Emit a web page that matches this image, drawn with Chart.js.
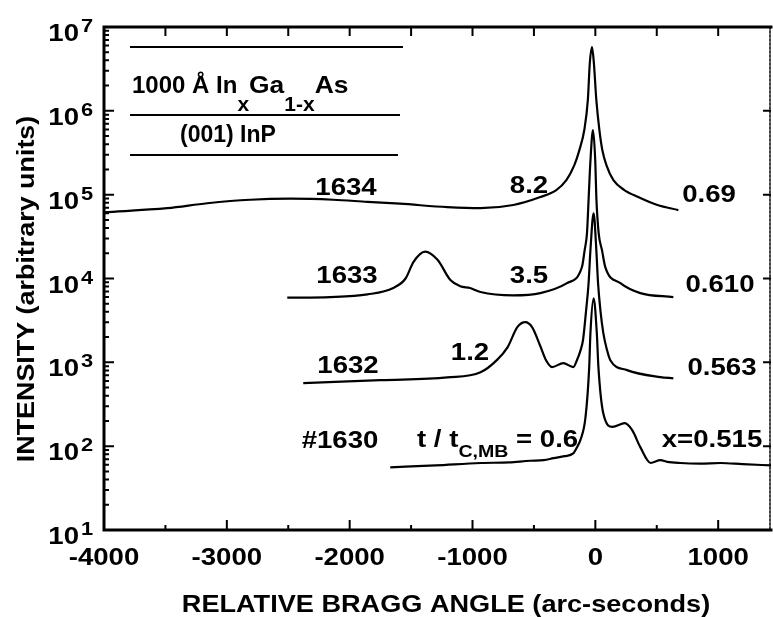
<!DOCTYPE html>
<html>
<head>
<meta charset="utf-8">
<script src="https://cdn.jsdelivr.net/npm/chart.js@4.4.0/dist/chart.umd.min.js"></script>
<style>
  body { margin: 0; background: #fff; }
  canvas { display: block; }
</style>
</head>
<body>
<canvas id="grafico" width="773" height="617"></canvas>
<script>
// valores: angulo (arc-seconds) e intensidade (unidades arbitrarias)
const angulo1634 = [-4000, -3485, -3160, -2810, -2480, -2135, -1855, -1590, -1205, -935, -668, -448, -318, -236, -171, -130, -90, -61, -45, -27, -12, 8, 33, 57, 90, 147, 236, 350, 505, 676];
const intens1634 = [61700, 69000, 79000, 87000, 89500, 87000, 82000, 78000, 71000, 69000, 75200, 93600, 113500, 149000, 225000, 340000, 590000, 1350000, 3720000, 5770000, 3720000, 1350000, 590000, 340000, 225000, 149000, 113500, 93600, 75200, 65500];

const angulo1633 = [-2508, -2160, -1855, -1645, -1545, -1480, -1385, -1285, -1180, -1100, -1020, -935, -670, -448, -231, -109, -87, -68, -54, -41, -19, 0, 8, 27, 54, 81, 204, 366, 635];
const intens1633 = [5900, 6000, 6460, 7700, 10000, 15800, 20900, 16700, 9600, 8100, 7700, 6900, 6300, 6700, 8800, 13700, 21800, 34800, 93600, 238000, 589000, 238000, 93600, 34800, 21800, 13700, 8800, 6700, 6000];

const angulo1632 = [-2378, -1750, -1205, -935, -800, -715, -635, -570, -515, -450, -400, -353, -261, -179, -150, -120, -100, -75, -55, -40, -14, 8, 22, 41, 65, 95, 122, 258, 529, 635];
const intens1632 = [565, 613, 660, 760, 1070, 1510, 2630, 3020, 2630, 1590, 1050, 877, 978, 877, 1060, 1400, 1860, 4200, 8800, 21800, 60000, 21800, 8800, 4200, 2230, 1400, 1060, 807, 666, 645];

const angulo1630 = [-1670, -1300, -935, -700, -530, -420, -340, -250, -180, -145, -122, -80, -50, -40, -14, 12, 25, 65, 140, 240, 300, 365, 450, 530, 585, 690, 850, 1020, 1200, 1430];
const intens1630 = [56, 59, 63, 64, 67, 68, 72, 76, 82, 100, 118, 222, 877, 2230, 5800, 2230, 877, 245, 170, 188, 155, 98, 63, 68, 65, 63, 62, 63, 61, 59];

// eixos
const ticksX = [-4000, -3000, -2000, -1000, 0, 1000];
const ticksXMeio = [-3500, -2500, -1500, -500, 500];
const ticksY = [1e1, 1e2, 1e3, 1e4, 1e5, 1e6, 1e7];
const expoentesY = ['1', '2', '3', '4', '5', '6', '7'];

const FONTE = '"Liberation Sans", Arial, Helvetica, sans-serif';
const fonte = tam => `bold ${tam}px ${FONTE}`;

// escreve uma sequencia de pedacos [texto, tamanho, deslocamento vertical, escala horizontal]
function escreve(ctx, partes, x, y, alinh, sx) {
  let total = 0;
  const larguras = partes.map(([t, tam, dy, sxp]) => {
    ctx.font = fonte(tam);
    const w = ctx.measureText(t).width * (sxp || sx);
    total += w;
    return w;
  });
  let cx = alinh === 'center' ? x - total / 2 : (alinh === 'right' ? x - total : x);
  partes.forEach(([t, tam, dy, sxp], i) => {
    ctx.save();
    ctx.font = fonte(tam);
    ctx.translate(cx, y + (dy || 0));
    ctx.scale(sxp || sx, 1);
    ctx.textAlign = 'left';
    ctx.textBaseline = 'alphabetic';
    ctx.fillStyle = '#000';
    ctx.fillText(t, 0, 0);
    ctx.restore();
    cx += larguras[i];
  });
}

// textos dentro do grafico (posicoes em pixels)
const rotulos = [
  {partes: [['1634', 24]], x: 346, y: 195, al: 'center'},
  {partes: [['8.2', 24]], x: 529, y: 193, al: 'center'},
  {partes: [['0.69', 24]], x: 709, y: 202, al: 'center'},
  {partes: [['1633', 24]], x: 347, y: 283, al: 'center'},
  {partes: [['3.5', 24]], x: 529, y: 283, al: 'center'},
  {partes: [['0.610', 24]], x: 720, y: 292, al: 'center'},
  {partes: [['1632', 24]], x: 348, y: 373, al: 'center'},
  {partes: [['1.2', 24]], x: 470, y: 360, al: 'center'},
  {partes: [['0.563', 24]], x: 722, y: 375, al: 'center'},
  {partes: [['#1630', 24]], x: 340, y: 448, al: 'center'},
  {partes: [['t / t', 24], ['C,MB', 17, 10], [' = 0.6', 24]], x: 417, y: 447, al: 'left'},
  {partes: [['x=0.515', 24]], x: 712, y: 447, al: 'center'}
];

const caixaLegenda = {
  linhas: [[130, 403, 47], [130, 400, 115], [130, 398, 155]],
  camada: [['1000 Å In', 24, 0, 1.0], ['x', 20, 18, 1.05], ['Ga', 24, 0, 1.1], ['1-x', 20, 18, 1.05], ['As', 24, 0, 1.1]],
  substrato: [['(001) InP', 23]]
};

const moldura = {
  id: 'moldura',
  afterDraw(chart) {
    const {ctx, chartArea: a, scales: {x, y}} = chart;
    ctx.save();
    ctx.strokeStyle = '#000';
    ctx.lineCap = 'square';

    // linhas do quadro
    ctx.lineWidth = 3;
    ctx.beginPath();
    ctx.moveTo(a.right, a.top);
    ctx.lineTo(a.left, a.top);
    ctx.lineTo(a.left, a.bottom);
    ctx.lineTo(a.right, a.bottom);
    ctx.stroke();
    ctx.lineWidth = 1.5;
    ctx.setLineDash([2, 2]);
    ctx.beginPath();
    ctx.moveTo(a.right - 1, a.top);
    ctx.lineTo(a.right - 1, a.bottom);
    ctx.stroke();
    ctx.setLineDash([]);

    // marcas do eixo x (baixo e cima)
    ctx.lineWidth = 2;
    ctx.lineCap = 'butt';
    ctx.beginPath();
    ticksX.forEach(v => {
      const px = x.getPixelForValue(v);
      ctx.moveTo(px, a.bottom); ctx.lineTo(px, a.bottom - 10);
      ctx.moveTo(px, a.top); ctx.lineTo(px, a.top + 9);
    });
    ticksXMeio.forEach(v => {
      const px = x.getPixelForValue(v);
      ctx.moveTo(px, a.bottom); ctx.lineTo(px, a.bottom - 5);
      ctx.moveTo(px, a.top); ctx.lineTo(px, a.top + 9);
    });
    ctx.stroke();

    // marcas do eixo y (log)
    ctx.beginPath();
    ticksY.forEach((v, i) => {
      const py = y.getPixelForValue(v);
      ctx.moveTo(a.left, py); ctx.lineTo(a.left + 10, py);
      ctx.moveTo(a.right, py); ctx.lineTo(a.right - 8, py);
      if (i < ticksY.length - 1) {
        for (let m = 2; m <= 9; m++) {
          const pm = y.getPixelForValue(v * m);
          ctx.moveTo(a.left, pm); ctx.lineTo(a.left + 5, pm);
        }
      }
    });
    ctx.stroke();

    // rotulos dos eixos
    ticksX.forEach(v => {
      escreve(ctx, [[String(v), 24]], x.getPixelForValue(v), 565, 'center', 1.15);
    });
    ticksY.forEach((v, i) => {
      const py = y.getPixelForValue(v);
      escreve(ctx, [['10', 24]], 79, py + 14, 'right', 1.15);
      escreve(ctx, [[expoentesY[i], 19]], 81, py + 5, 'left', 1.15);
    });
    escreve(ctx, [['RELATIVE BRAGG ANGLE (arc-seconds)', 24]], 446, 612, 'center', 1.13);
    ctx.save();
    ctx.translate(34, 289);
    ctx.rotate(-Math.PI / 2);
    escreve(ctx, [['INTENSITY (arbitrary units)', 24]], 0, 0, 'center', 1.12);
    ctx.restore();

    // caixa com a estrutura da amostra
    ctx.lineWidth = 2;
    ctx.beginPath();
    caixaLegenda.linhas.forEach(([x0, x1, yy]) => {
      ctx.moveTo(x0, yy); ctx.lineTo(x1, yy);
    });
    ctx.stroke();
    escreve(ctx, caixaLegenda.camada, 132, 93, 'left', 1.0);
    escreve(ctx, caixaLegenda.substrato, 180, 142, 'left', 1.0);

    rotulos.forEach(r => escreve(ctx, r.partes, r.x, r.y, r.al, 1.15));
    ctx.restore();
  }
};

const pontos = (xs, ys) => xs.map((v, i) => ({x: v, y: ys[i]}));
const estiloCurva = {
  borderColor: '#000',
  borderWidth: 2.2,
  pointRadius: 0,
  fill: false,
  cubicInterpolationMode: 'monotone'
};

const ctx = document.getElementById('grafico');
new Chart(ctx, {
  type: 'line',
  data: {
    datasets: [
      {label: '1634', data: pontos(angulo1634, intens1634), ...estiloCurva},
      {label: '1633', data: pontos(angulo1633, intens1633), ...estiloCurva},
      {label: '1632', data: pontos(angulo1632, intens1632), ...estiloCurva},
      {label: '1630', data: pontos(angulo1630, intens1630), ...estiloCurva}
    ]
  },
  options: {
    responsive: false,
    animation: false,
    layout: {padding: {left: 0, top: 27, right: 2, bottom: 0}},
    scales: {
      x: {
        type: 'linear',
        min: -4000,
        max: 1430,
        ticks: {display: false},
        grid: {display: false},
        border: {display: false},
        afterFit(s) { s.height = 87; }
      },
      y: {
        type: 'logarithmic',
        min: 10,
        max: 1e7,
        ticks: {display: false},
        grid: {display: false},
        border: {display: false},
        afterFit(s) { s.width = 104; }
      }
    },
    plugins: {
      legend: {display: false},
      tooltip: {enabled: false}
    }
  },
  plugins: [moldura]
});
</script>
</body>
</html>
